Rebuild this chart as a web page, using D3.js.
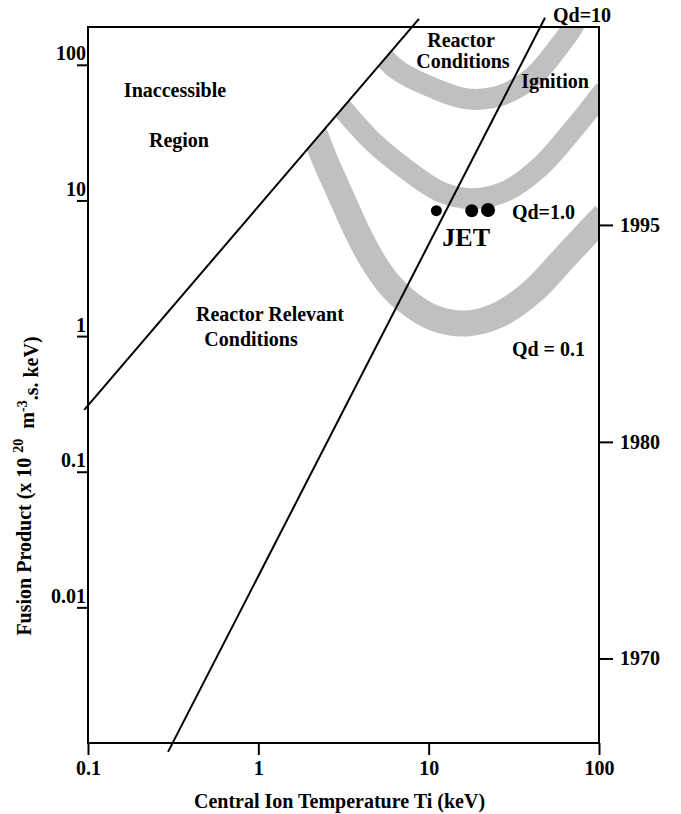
<!DOCTYPE html>
<html>
<head>
<meta charset="utf-8">
<script src="https://cdn.jsdelivr.net/npm/d3@7"></script>
<style>
    body { margin: 0; background: #fff; }
    svg text { font-family: "Liberation Serif", "Times New Roman", serif; font-weight: bold; }
</style>
</head>
<body>
<div class="chart"></div>
<script>

// data (Ti in keV, fusion product in 1e20 m-3 s keV)

const tempDomain = [0.1, 100]
const productDomain = [0.001, 190]

const tempTicks = [0.1, 1, 10, 100]
const productTicks = [100, 10, 1, 0.1, 0.01]

// right hand time axis: year and the fusion product reached that year
const years = [1970, 1980, 1995]
const yearProducts = [0.0042, 0.166, 6.6]

// boundary lines [Ti, product]
const inaccessibleLine = [[0.095, 0.286], [8.77, 218]]
const reactorLine = [[0.295, 0.00086], [48.2, 222]]

// grey Qd bands
const qd10Band = [[5.18, 125], [5.62, 109], [6.79, 88.8], [10.6, 67.6], [16.8, 56.1],
    [26.2, 59.1], [41.0, 81.6], [59.0, 140], [70.3, 191], [79.4, 277]]
const qd1Band = [[2.82, 55.2], [3.02, 49.9], [4.71, 27.0], [7.46, 16.8], [11.7, 11.6],
    [18.2, 10.3], [28.8, 11.8], [45.1, 17.7], [70.3, 33.2], [108, 65.4]]
const qd01Band = [[2.07, 34.3], [2.21, 28.0], [2.53, 18.3], [2.86, 13.0], [3.32, 8.53],
    [3.80, 5.87], [4.65, 3.65], [5.77, 2.47], [7.26, 1.85], [10.6, 1.37], [16.8, 1.24],
    [26.2, 1.45], [41.0, 2.15], [64.9, 3.97], [108, 7.83]]

// JET shots
const jetTemps = [11.1, 17.9, 22.3]
const jetProducts = [8.4, 8.4, 8.5]

// annotations, anchored in data space
const labels = [
    { text: "Inaccessible", t: 0.324, p: 58.1, anchor: "middle" },
    { text: "Region", t: 0.342, p: 24.8, anchor: "middle" },
    { text: "Reactor Relevant", t: 1.17, p: 1.29, anchor: "middle" },
    { text: "Conditions", t: 0.906, p: 0.847, anchor: "middle" },
    { text: "Reactor", t: 15.5, p: 136, anchor: "middle" },
    { text: "Conditions", t: 15.9, p: 95, anchor: "middle" },
    { text: "Ignition", t: 55.2, p: 67.6, anchor: "middle" },
    { text: "Qd=10", t: 53.7, p: 208, anchor: "start" },
    { text: "Qd=1.0", t: 30.8, p: 7.31, anchor: "start" },
    { text: "Qd = 0.1", t: 30.8, p: 0.714, anchor: "start" },
]
const jetLabel = { text: "JET", t: 16.6, p: 4.62 }


function drawChart() {

    // styles
    const bandColor = "#c0c0c0"
    const bandWidths = [21, 21, 26]
    const dotRadius = [5.5, 6.5, 7]
    const fontSize = 20

    let dimensions = {
        width: 681,
        height: 814,
        margin: {
            top: 27,
            right: 82,
            bottom: 71,
            left: 88,
        }
    }
    dimensions.boundedWidth = dimensions.width - dimensions.margin.left - dimensions.margin.right
    dimensions.boundedHeight = dimensions.height - dimensions.margin.top - dimensions.margin.bottom

    const wrapper = d3.select(".chart")
        .append("svg")
        .attr("width", dimensions.width)
        .attr("height", dimensions.height)

    const bounds = wrapper.append("g")
        .attr("transform", `translate(${dimensions.margin.left},${dimensions.margin.top})`)

    // scales

    const xScale = d3.scaleLog()
        .domain(tempDomain)
        .range([0, dimensions.boundedWidth])

    const yScale = d3.scaleLog()
        .domain(productDomain)
        .range([dimensions.boundedHeight, 0])

    const lineGenerator = d3.line()
        .x(d => xScale(d[0]))
        .y(d => yScale(d[1]))

    // clip: inside the frame and right of the inaccessible boundary
    const defs = wrapper.append("defs")
    defs.append("clipPath")
        .attr("id", "frame-clip")
        .append("rect")
        .attr("width", dimensions.boundedWidth)
        .attr("height", dimensions.boundedHeight)

    const p0 = [xScale(inaccessibleLine[0][0]), yScale(inaccessibleLine[0][1])]
    const p1 = [xScale(inaccessibleLine[1][0]), yScale(inaccessibleLine[1][1])]
    const farX = dimensions.boundedWidth + 20
    const farY = dimensions.boundedHeight + 20
    defs.append("clipPath")
        .attr("id", "region-clip")
        .append("polygon")
        .attr("points", [p0, p1, [farX, p1[1]], [farX, farY], [p0[0], farY]].map(p => p.join(",")).join(" "))

    // bands
    const bandGroup = bounds.append("g")
        .attr("clip-path", "url(#frame-clip)")
        .append("g")
        .attr("clip-path", "url(#region-clip)")

    bandGroup.selectAll("path")
        .data([qd10Band, qd1Band, qd01Band])
        .join("path")
        .attr("d", lineGenerator.curve(d3.curveCatmullRom))
        .attr("fill", "none")
        .attr("stroke", bandColor)
        .attr("stroke-width", (d, i) => bandWidths[i])

    // frame
    bounds.append("rect")
        .attr("width", dimensions.boundedWidth)
        .attr("height", dimensions.boundedHeight)
        .attr("fill", "none")
        .attr("stroke", "#000")
        .attr("stroke-width", 2)

    // boundary lines
    lineGenerator.curve(d3.curveLinear)
    bounds.selectAll(".boundary")
        .data([inaccessibleLine, reactorLine])
        .join("path")
        .attr("class", "boundary")
        .attr("d", lineGenerator)
        .attr("fill", "none")
        .attr("stroke", "#000")
        .attr("stroke-width", 2)

    // JET dots
    bounds.selectAll("circle")
        .data(jetTemps)
        .join("circle")
        .attr("cx", d => xScale(d))
        .attr("cy", (d, i) => yScale(jetProducts[i]))
        .attr("r", (d, i) => dotRadius[i])
        .attr("fill", "#000")

    // labels
    bounds.selectAll(".label")
        .data(labels)
        .join("text")
        .attr("class", "label")
        .attr("x", d => xScale(d.t))
        .attr("y", d => yScale(d.p))
        .attr("text-anchor", d => d.anchor)
        .attr("font-size", fontSize)
        .style("white-space", "pre")
        .text(d => d.text)

    bounds.append("text")
        .attr("x", xScale(jetLabel.t))
        .attr("y", yScale(jetLabel.p))
        .attr("text-anchor", "middle")
        .attr("font-size", 26)
        .text(jetLabel.text)

    // axes

    const styleAxis = g => {
        g.select(".domain").remove()
        g.attr("font-size", fontSize)
            .attr("font-family", null)
        g.selectAll(".tick line").attr("stroke-width", 2)
    }

    const yAxis = bounds.append("g")
        .call(d3.axisLeft(yScale)
            .tickValues(productTicks)
            .tickFormat(d => String(d))
            .tickSize(11)
            .tickSizeOuter(0))
        .call(styleAxis)
    yAxis.selectAll(".tick text")
        .attr("x", -2)
        .attr("dy", "-0.25em")

    const xAxis = bounds.append("g")
        .attr("transform", `translate(0,${dimensions.boundedHeight})`)
        .call(d3.axisBottom(xScale)
            .tickValues(tempTicks)
            .tickFormat(d => String(d))
            .tickSize(12)
            .tickSizeOuter(0))
        .call(styleAxis)
    xAxis.selectAll(".tick text")
        .attr("y", 18)

    const yearAxis = bounds.append("g")
        .attr("transform", `translate(${dimensions.boundedWidth},0)`)
        .call(d3.axisRight(yScale)
            .tickValues(yearProducts)
            .tickFormat((d, i) => years[i])
            .tickSize(14)
            .tickSizeOuter(0))
        .call(styleAxis)
    yearAxis.selectAll(".tick text")
        .attr("x", 21)

    // axis titles

    wrapper.append("text")
        .attr("x", dimensions.margin.left + dimensions.boundedWidth / 2 - 4)
        .attr("y", dimensions.height - 6)
        .attr("text-anchor", "middle")
        .attr("font-size", fontSize)
        .text("Central Ion Temperature Ti (keV)")

    const yTitle = wrapper.append("text")
        .attr("transform", `translate(31,486) rotate(-90)`)
        .attr("text-anchor", "middle")
        .attr("font-size", fontSize)
        .style("white-space", "pre")
    yTitle.append("tspan").text("Fusion Product (x 10 ")
    yTitle.append("tspan").attr("dy", "-0.55em").attr("font-size", 14).text("20")
    yTitle.append("tspan").attr("dy", "0.55em").text("  m")
    yTitle.append("tspan").attr("dy", "-0.55em").attr("font-size", 14).text("-3")
    yTitle.append("tspan").attr("dy", "0.55em").text(".s. keV)")
}

drawChart()
</script>
</body>
</html>
